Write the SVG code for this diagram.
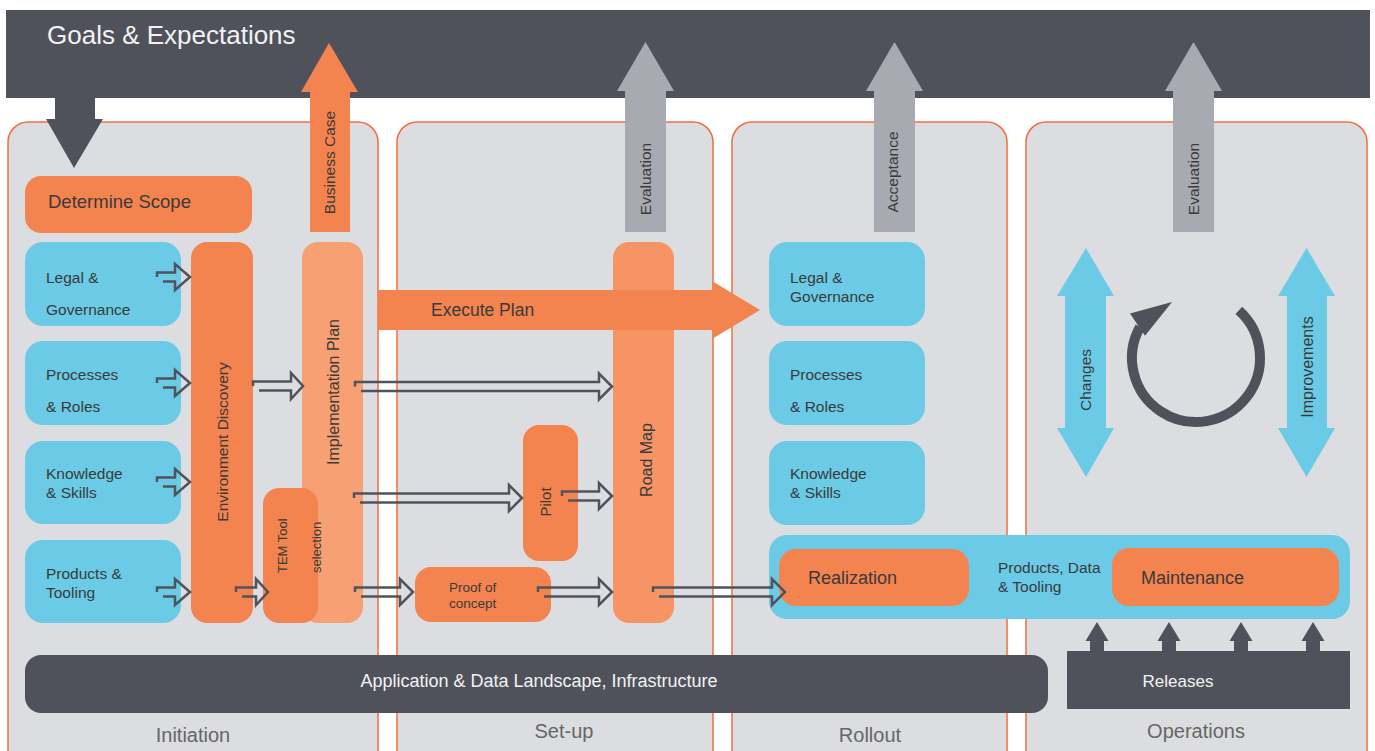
<svg xmlns="http://www.w3.org/2000/svg" width="1375" height="751" viewBox="0 0 1375 751">
<defs>
<style>
.t{font-family:"Liberation Sans",Arial,sans-serif;fill:#3a3a3a}
.w{fill:#f2f2f2}
.panel{fill:#dcdde0;stroke:#f26d3d;stroke-width:1.5}
.blue{fill:#6bcbe7}
.or{fill:#f4844f}
.dark{fill:#4f525b}
.gray{fill:#a7aab1}
.da{fill:none;stroke:#50535c;stroke-width:2.5;stroke-linejoin:miter}
.lbl{font-size:20px;fill:#666;text-anchor:middle}
.f15{font-size:15.5px}
.mid{text-anchor:middle}
</style>
</defs>
<rect width="1375" height="751" fill="#ffffff"/>

<g id="goals">
<rect x="6" y="10" width="1364" height="88" class="dark"/>
<text x="47" y="44" class="t w" style="font-size:26px">Goals &amp; Expectations</text>
</g>

<g id="phase-initiation">
<rect x="8" y="122" width="370" height="650" rx="20" class="panel"/>
<text x="193" y="742" class="t lbl">Initiation</text>
</g>
<g id="phase-setup">
<rect x="397" y="122" width="316" height="650" rx="20" class="panel"/>
<text x="564" y="738" class="t lbl">Set-up</text>
</g>
<g id="phase-rollout">
<rect x="732" y="122" width="275" height="650" rx="20" class="panel"/>
<text x="870" y="742" class="t lbl">Rollout</text>
</g>
<g id="phase-operations">
<rect x="1026" y="122" width="341" height="650" rx="20" class="panel"/>
<text x="1196" y="738" class="t lbl">Operations</text>
</g>

<g id="determine-scope">
<rect x="25" y="176" width="227" height="57" rx="16" class="or"/>
<text x="48" y="208" class="t" style="font-size:18.5px">Determine Scope</text>
</g>

<g id="init-legal">
<rect x="25" y="242" width="156" height="84" rx="18" class="blue"/>
<text x="46" y="283" class="t f15">Legal &amp;</text>
<text x="46" y="315" class="t f15">Governance</text>
</g>
<g id="init-processes">
<rect x="25" y="341" width="156" height="84" rx="18" class="blue"/>
<text x="46" y="380" class="t f15">Processes</text>
<text x="46" y="412" class="t f15">&amp; Roles</text>
</g>
<g id="init-knowledge">
<rect x="25" y="441" width="156" height="83" rx="18" class="blue"/>
<text x="46" y="479" class="t f15">Knowledge</text>
<text x="46" y="498" class="t f15">&amp; Skills</text>
</g>
<g id="init-products">
<rect x="25" y="540" width="156" height="83" rx="18" class="blue"/>
<text x="46" y="579" class="t f15">Products &amp;</text>
<text x="46" y="598" class="t f15">Tooling</text>
</g>

<g id="environment-discovery">
<rect x="191" y="242" width="62" height="381" rx="16" class="or"/>
<text transform="translate(227.5,442) rotate(-90)" class="t f15 mid">Environment Discovery</text>
</g>
<g id="implementation-plan">
<rect x="302" y="242" width="61" height="381" rx="16" fill="#f7a074"/>
<text transform="translate(338.5,392) rotate(-90)" class="t mid" style="font-size:16px">Implementation Plan</text>
</g>
<g id="tem-tool">
<rect x="263" y="488" width="55" height="135" rx="16" class="or"/>
<text transform="translate(287,573) rotate(-90)" class="t" style="font-size:13px">TEM Tool</text>
<text transform="translate(321,573) rotate(-90)" class="t" style="font-size:13px">selection</text>
</g>

<g id="road-map">
<rect x="613" y="242" width="61" height="381" rx="16" fill="#f69466"/>
<text transform="translate(652,460) rotate(-90)" class="t mid" style="font-size:16px">Road Map</text>
</g>
<g id="pilot">
<rect x="523" y="425" width="55" height="136" rx="16" class="or"/>
<text transform="translate(551,502) rotate(-90)" class="t mid" style="font-size:15px">Pilot</text>
</g>
<g id="proof-of-concept">
<rect x="415" y="567" width="136" height="55" rx="16" class="or"/>
<text x="449" y="592" class="t" style="font-size:13.5px">Proof of</text>
<text x="449" y="608" class="t" style="font-size:13.5px">concept</text>
</g>

<g id="roll-legal">
<rect x="769" y="242" width="156" height="84" rx="18" class="blue"/>
<text x="790" y="283" class="t f15">Legal &amp;</text>
<text x="790" y="302" class="t f15">Governance</text>
</g>
<g id="roll-processes">
<rect x="769" y="341" width="156" height="84" rx="18" class="blue"/>
<text x="790" y="380" class="t f15">Processes</text>
<text x="790" y="412" class="t f15">&amp; Roles</text>
</g>
<g id="roll-knowledge">
<rect x="769" y="441" width="156" height="84" rx="18" class="blue"/>
<text x="790" y="479" class="t f15">Knowledge</text>
<text x="790" y="498" class="t f15">&amp; Skills</text>
</g>

<g id="products-data-tooling">
<rect x="769" y="535" width="581" height="84" rx="18" class="blue"/>
<text x="998" y="573" class="t f15">Products, Data</text>
<text x="998" y="592" class="t f15">&amp; Tooling</text>
</g>
<g id="realization">
<rect x="779" y="549" width="190" height="57" rx="17" class="or"/>
<text x="808" y="584" class="t" style="font-size:18px">Realization</text>
</g>
<g id="maintenance">
<rect x="1112" y="548" width="227" height="58" rx="17" class="or"/>
<text x="1141" y="584" class="t" style="font-size:18px">Maintenance</text>
</g>

<g id="changes">
<polygon points="1086,248 1114,296 1106,296 1106,428 1114,428 1086,477 1057,428 1065,428 1065,296 1057,296" class="blue"/>
<text transform="translate(1091,380) rotate(-90)" class="t f15 mid">Changes</text>
</g>
<g id="improvements">
<polygon points="1306.5,248 1335,296 1327,296 1327,428 1335,428 1306.5,477 1278,428 1287,428 1287,296 1278,296" class="blue"/>
<text transform="translate(1313,367) rotate(-90)" class="t mid" style="font-size:16px">Improvements</text>
</g>
<g id="cycle">
<path d="M1238.8,310.4 A64,64 0 1 1 1140,327" fill="none" stroke="#4f525b" stroke-width="10"/>
<polygon points="1130,313.6 1172,302 1145,335.7" class="dark"/>
</g>

<g id="app-landscape">
<rect x="25" y="655" width="1023" height="58" rx="16" class="dark"/>
<text x="539" y="687" class="t w mid" style="font-size:18px">Application &amp; Data Landscape, Infrastructure</text>
</g>
<g id="releases">
<rect x="1067" y="651" width="283" height="58" class="dark"/>
<polygon points="1097,622 1108.5,641 1104,641 1104,652 1090,652 1090,641 1085.5,641" class="dark"/>
<polygon points="1169,622 1180.5,641 1176,641 1176,652 1162,652 1162,641 1157.5,641" class="dark"/>
<polygon points="1241,622 1252.5,641 1248,641 1248,652 1234,652 1234,641 1229.5,641" class="dark"/>
<polygon points="1313,622 1324.5,641 1320,641 1320,652 1306,652 1306,641 1301.5,641" class="dark"/>
<text x="1178" y="687" class="t w mid" style="font-size:17px">Releases</text>
</g>

<g id="connectors">
<polygon points="55,97 95,97 95,119 103,119 74,168 46,119 55,119" class="dark"/>
<polygon points="310,232 350,232 350,92 358,92 329,43 301,92 310,92" class="or"/>
<text transform="translate(335,162.5) rotate(-90)" class="t f15 mid">Business Case</text>
<polygon points="625,232 666,232 666,91 674,91 645.5,42 617,91 625,91" class="gray"/>
<text transform="translate(651,179) rotate(-90)" class="t f15 mid">Evaluation</text>
<polygon points="874,232 915,232 915,91 923,91 894.5,42 866,91 874,91" class="gray"/>
<text transform="translate(898,172) rotate(-90)" class="t f15 mid">Acceptance</text>
<polygon points="1173,232 1214,232 1214,91 1222,91 1193.5,42 1165,91 1173,91" class="gray"/>
<text transform="translate(1199,179) rotate(-90)" class="t f15 mid">Evaluation</text>

<polygon points="378,290 712,290 712,281 760,310 712,339 712,330 378,330" class="or"/>
<text x="431" y="316" class="t" style="font-size:17.5px">Execute Plan</text>

<path class="da" d="M157,277V272.5H175V264L190,277L175,290V281.5H163"/>
<path class="da" d="M157,383V378.5H175V370L190,383L175,396V387.5H163"/>
<path class="da" d="M157,482V477.5H175V469L190,482L175,495V486.5H163"/>
<path class="da" d="M157,592V587.5H175V579L190,592L175,605V596.5H163"/>
<path class="da" d="M253,386V381.5H291V373L303,386L291,399V390.5H259"/>
<path class="da" d="M236,592V587.5H256V579L268,592L256,605V596.5H242"/>
<path class="da" d="M355,386.5V382H599V373.5L612,386.5L599,399.5V391H361"/>
<path class="da" d="M354,498V493.5H509V485L522,498L509,511V502.5H360"/>
<path class="da" d="M562,496V491.5H599V483L612,496L599,509V500.5H568"/>
<path class="da" d="M355,592V587.5H400V579L413,592L400,605V596.5H361"/>
<path class="da" d="M538,592V587.5H599V579L612,592L599,605V596.5H544"/>
<path class="da" d="M653,592V587.5H772V579L785,592L772,605V596.5H659"/>
</g>
</svg>
